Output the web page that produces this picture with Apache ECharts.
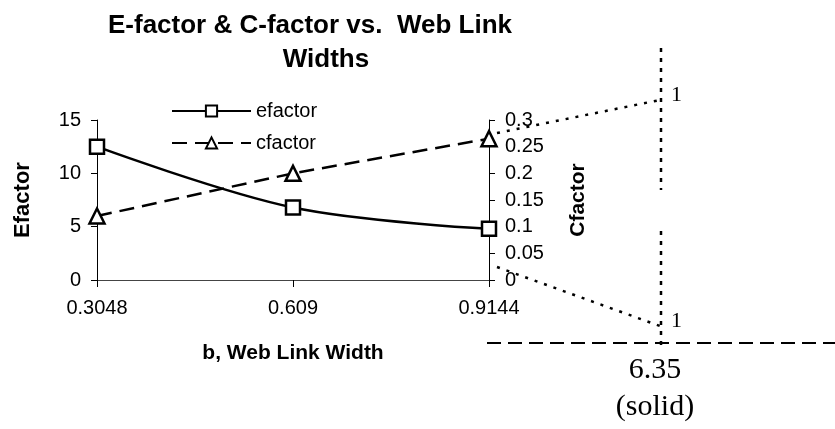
<!DOCTYPE html>
<html>
<head>
<meta charset="utf-8">
<script src="https://cdn.jsdelivr.net/npm/echarts@6/dist/echarts.min.js"></script>
<style>
  html, body { margin: 0; padding: 0; background: #fff; }
  #main { width: 835px; height: 429px; }
</style>
</head>
<body>
<div id="main"></div>
<script>
// web link widths (b)
var widths = ['0.3048', '0.609', '0.9144'];
var efactor = [12.5, 6.8, 4.8];
var cfactor = [0.12, 0.2, 0.265];

var sans = 'Liberation Sans, Arial, sans-serif';
var serif = 'Liberation Serif, Times New Roman, serif';

var chart = echarts.init(document.getElementById('main'));
chart.setOption({
    backgroundColor: '#fff',
    animation: false,
    title: [{
        text: 'E-factor & C-factor vs.  Web Link',
        left: 305,
        top: 8,
        textAlign: 'center',
        textStyle: { fontFamily: sans, fontSize: 26, fontWeight: 'bold', color: '#000' }
    }, {
        text: 'Widths',
        left: 321,
        top: 42,
        textAlign: 'center',
        textStyle: { fontFamily: sans, fontSize: 26, fontWeight: 'bold', color: '#000' }
    }],
    legend: {
        left: 171,
        top: 101,
        padding: 0,
        orient: 'vertical',
        itemWidth: 79,
        itemHeight: 14,
        itemGap: 12,
        textStyle: { fontFamily: sans, fontSize: 20, color: '#000' },
        data: ['efactor', 'cfactor']
    },
    grid: { left: 97, right: 346, top: 120, bottom: 149 },
    xAxis: {
        type: 'category',
        boundaryGap: false,
        data: widths,
        name: 'b, Web Link Width',
        nameLocation: 'middle',
        nameGap: 63,
        nameTextStyle: { fontFamily: sans, fontSize: 21, fontWeight: 'bold', color: '#000' },
        axisLine: { lineStyle: { color: '#444', width: 1 } },
        axisTick: { length: 7, lineStyle: { color: '#000' } },
        axisLabel: { fontFamily: sans, fontSize: 20, color: '#000', margin: 18 },
        splitLine: { show: false }
    },
    yAxis: [{
        type: 'value',
        position: 'left',
        min: 0, max: 15, interval: 5,
        name: 'Efactor',
        nameLocation: 'middle',
        nameGap: 63,
        nameTextStyle: { fontFamily: sans, fontSize: 22, fontWeight: 'bold', color: '#000' },
        axisLine: { show: true, lineStyle: { color: '#000', width: 1 } },
        axisTick: { show: true, length: 6, lineStyle: { color: '#000' } },
        axisLabel: { fontFamily: sans, fontSize: 20, color: '#000', margin: 16 },
        splitLine: { show: false }
    }, {
        type: 'value',
        position: 'right',
        min: 0, max: 0.3, interval: 0.05,
        name: 'Cfactor',
        nameLocation: 'middle',
        nameGap: 79,
        nameRotate: 90,
        nameTextStyle: { fontFamily: sans, fontSize: 21, fontWeight: 'bold', color: '#000' },
        axisLine: { show: true, lineStyle: { color: '#000', width: 1 } },
        axisTick: { show: true, length: 6, lineStyle: { color: '#000' } },
        axisLabel: { fontFamily: sans, fontSize: 20, color: '#000', margin: 16 },
        splitLine: { show: false }
    }],
    series: [{
        name: 'efactor',
        type: 'line',
        yAxisIndex: 0,
        smooth: 0.35,
        data: efactor,
        symbol: 'rect',
        symbolSize: 14,
        lineStyle: { color: '#000', width: 2.5 },
        itemStyle: { color: '#fff', borderColor: '#000', borderWidth: 2.5 },
        z: 3
    }, {
        name: 'cfactor',
        type: 'line',
        yAxisIndex: 1,
        data: cfactor,
        symbol: 'triangle',
        symbolSize: 15,
        lineStyle: { color: '#000', width: 2.5, type: [15, 8] },
        itemStyle: { color: '#fff', borderColor: '#000', borderWidth: 2.5 },
        z: 4
    }],
    graphic: [
        // dotted lines of the side sketch
        { type: 'line', shape: { x1: 497, y1: 133, x2: 660, y2: 100 },
          style: { stroke: '#000', lineWidth: 2.5, lineDash: [3, 7] } },
        { type: 'line', shape: { x1: 497, y1: 267, x2: 660, y2: 326 },
          style: { stroke: '#000', lineWidth: 2.5, lineDash: [3, 7] } },
        { type: 'line', shape: { x1: 661, y1: 48, x2: 661, y2: 190 },
          style: { stroke: '#000', lineWidth: 2.5, lineDash: [4, 6] } },
        { type: 'line', shape: { x1: 661, y1: 231, x2: 661, y2: 349 },
          style: { stroke: '#000', lineWidth: 2.5, lineDash: [4, 6] } },
        { type: 'line', shape: { x1: 487, y1: 343, x2: 835, y2: 343 },
          style: { stroke: '#000', lineWidth: 2, lineDash: [14, 7] } },
        { type: 'text', left: 671, top: 84,
          style: { text: '1', font: '22px ' + serif, fill: '#000' } },
        { type: 'text', left: 671, top: 310,
          style: { text: '1', font: '22px ' + serif, fill: '#000' } },
        { type: 'text', x: 655, y: 370,
          style: { text: '6.35', font: '30px ' + serif, fill: '#000', align: 'center', verticalAlign: 'middle' } },
        { type: 'text', x: 655, y: 407,
          style: { text: '(solid)', font: '30px ' + serif, fill: '#000', align: 'center', verticalAlign: 'middle' } }
    ]
});
</script>
</body>
</html>
